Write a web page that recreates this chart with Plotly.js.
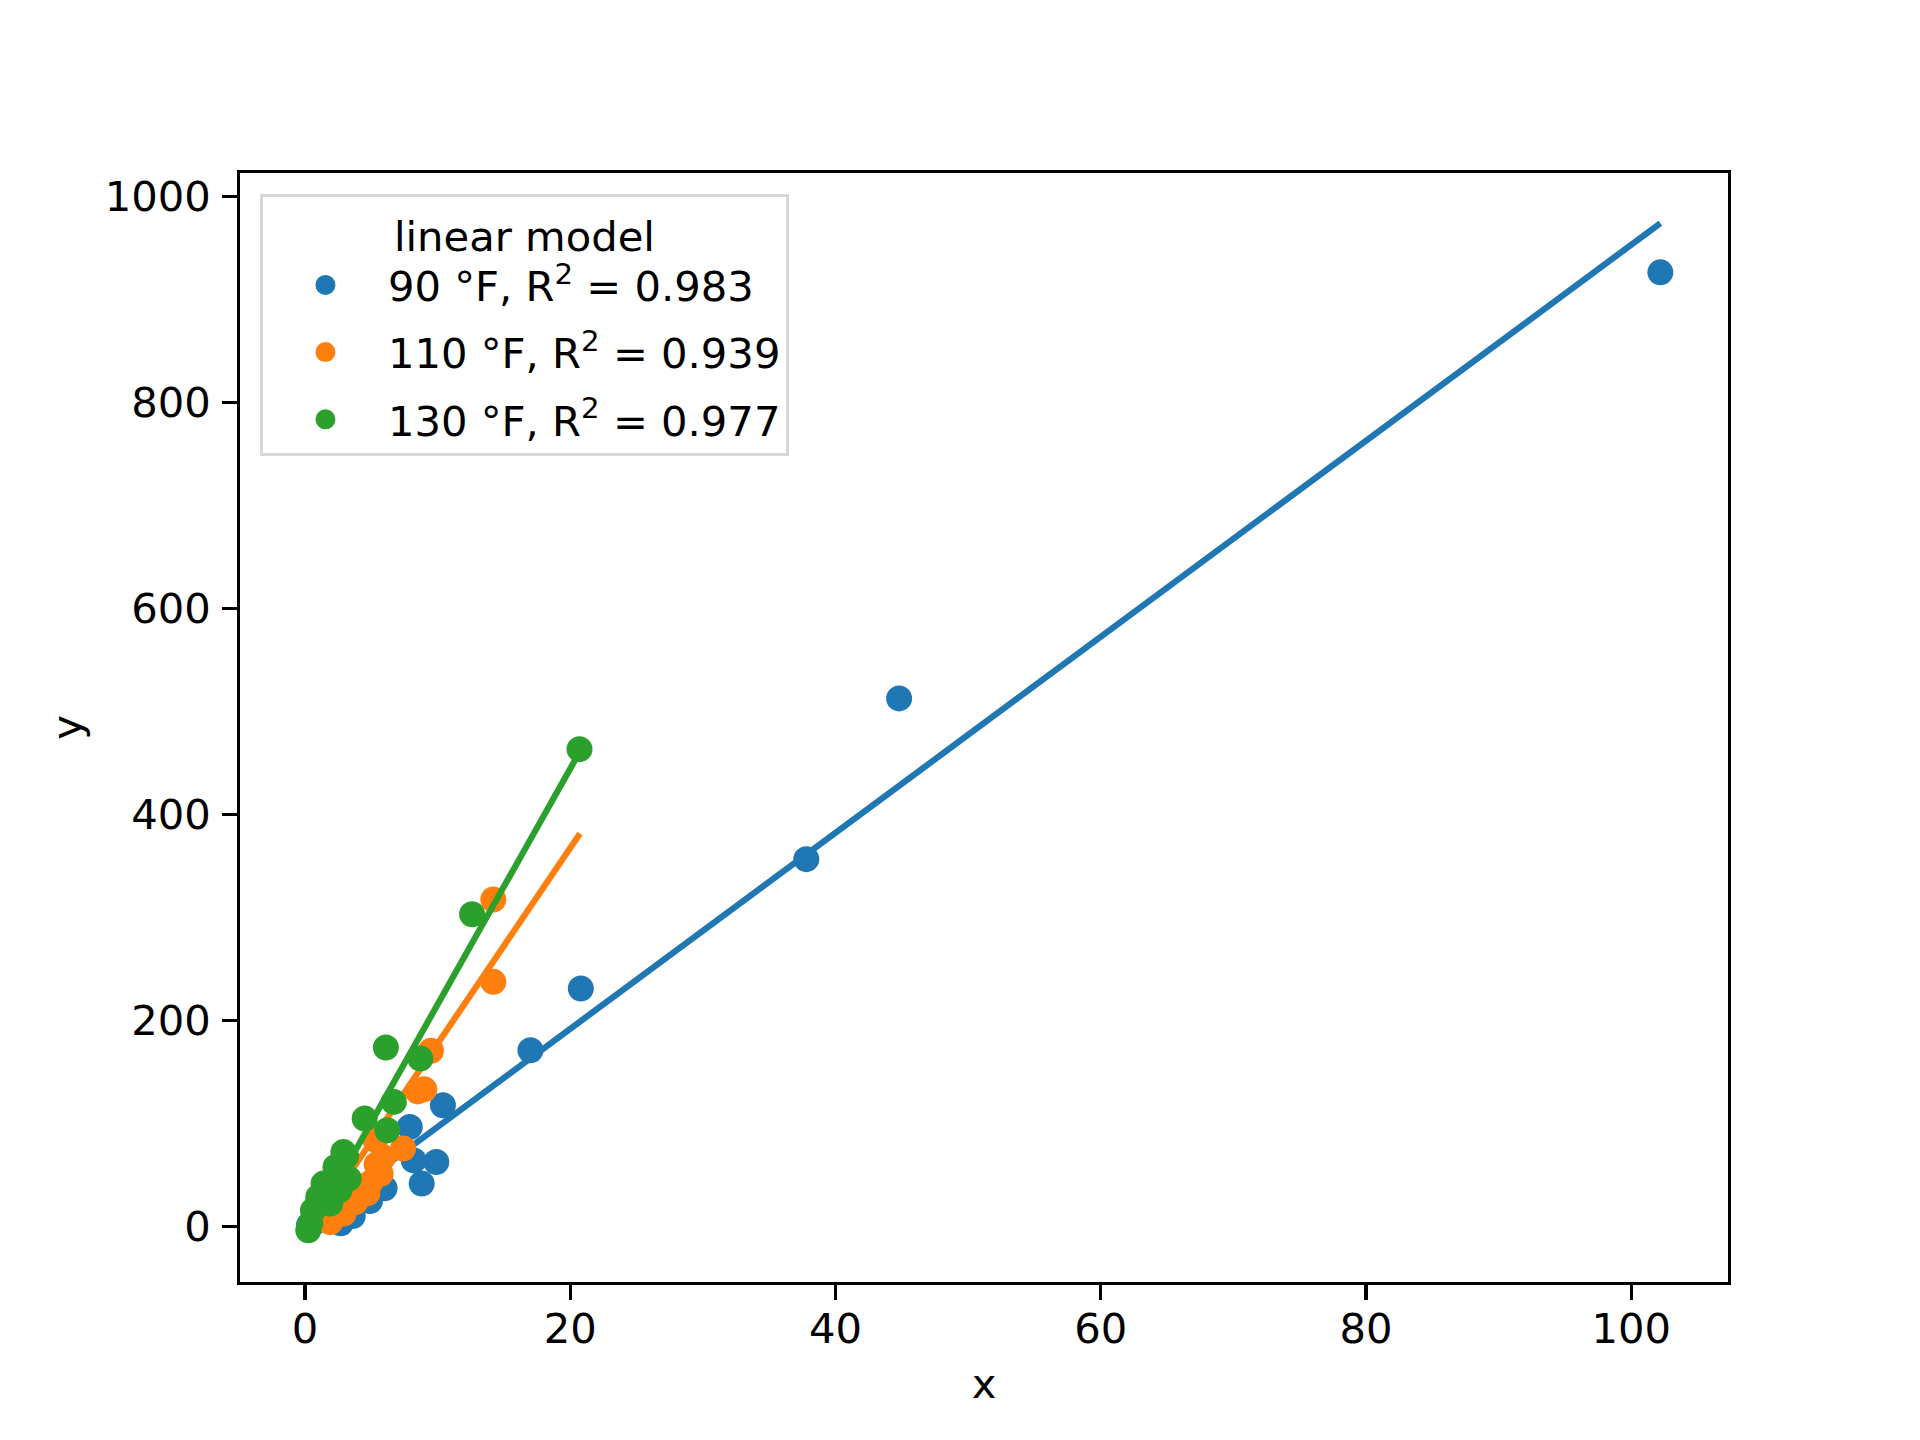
<!DOCTYPE html>
<html>
<head>
<meta charset="utf-8">
<script src="https://cdn.plot.ly/plotly-3.0.1.min.js"></script>
<style>
  body { margin: 0; background: #fff; }
  #chart { width: 1920px; height: 1440px; }
</style>
</head>
<body>
<div id="chart"></div>
<script>
// measured points, one group per temperature
const x90 = [102.2, 44.8, 37.8, 20.8, 17.0, 10.4, 7.9, 9.9, 8.2, 8.8, 6.0, 4.9, 3.6, 2.7, 1.6, 0.9, 0.3];
const y90 = [926.5, 512.7, 356.6, 231.0, 171.0, 117.6, 96.5, 62.5, 64.0, 41.5, 37.0, 24.5, 10.0, 3.0, 8.0, 5.0, 1.0];

const x110 = [14.2, 14.2, 9.5, 8.5, 9.0, 7.4, 5.3, 5.9, 5.7, 5.4, 4.7, 4.9, 3.8, 2.9, 1.9, 1.0, 0.4];
const y110 = [317.4, 237.4, 170.5, 131.0, 133.0, 75.5, 84.0, 67.0, 51.0, 60.0, 32.0, 42.0, 23.6, 12.3, 4.0, 8.0, 1.0];

const x130 = [20.7, 12.6, 6.1, 8.7, 6.7, 4.5, 6.2, 2.9, 2.3, 3.3, 1.4, 2.6, 1.9, 1.0, 0.6, 0.4, 0.25, 3.1, 1.6];
const y130 = [463.4, 303.1, 173.6, 163.0, 120.8, 104.6, 93.3, 72.2, 57.6, 46.3, 41.5, 35.0, 22.0, 28.5, 15.5, 2.6, -3.9, 68.0, 38.0];

// fitted lines, ends
const fitX90 = [0.25, 102.2];
const fitY90 = [3.8, 974.2];
const fitX110 = [0.4, 20.74];
const fitY110 = [-5.1, 381.5];
const fitX130 = [0.25, 20.74];
const fitY130 = [-7.8, 461.4];

const labels = ["90 °F, R<sup>2</sup> = 0.983", "110 °F, R<sup>2</sup> = 0.939", "130 °F, R<sup>2</sup> = 0.977"];
const colors = ["#1f77b4", "#ff7f0e", "#2ca02c"];

const FONT = "DejaVu Sans, sans-serif";

//one scatter and one line per group
//the marker outline makes the legend dot a bit bigger
function groupTraces(xs, ys, fx, fy, i)
{
  let pts =
  {
    x: xs,
    y: ys,
    type: "scatter",
    mode: "markers",
    name: labels[i],
    legendgroup: "g" + i,
    marker: { color: colors[i], size: 22, line: { color: colors[i], width: 4 } }
  };
  let line =
  {
    x: fx,
    y: fy,
    type: "scatter",
    mode: "lines",
    showlegend: false,
    legendgroup: "g" + i,
    line: { color: colors[i], width: 6.25 }
  };
  return [pts, line];
}

let data = []
  .concat(groupTraces(x90, y90, fitX90, fitY90, 0))
  .concat(groupTraces(x110, y110, fitX110, fitY110, 1))
  .concat(groupTraces(x130, y130, fitX130, fitY130, 2));

let axisBase =
{
  showgrid: false,
  zeroline: false,
  showline: true,
  mirror: true,
  linecolor: "#000",
  linewidth: 3.3,
  ticks: "outside",
  ticklen: 14.6,
  tickwidth: 3.3,
  tickcolor: "#000",
  tickfont: { family: FONT, size: 41.7, color: "#000" }
};

let layout =
{
  width: 1920,
  height: 1440,
  margin: { l: 240, r: 192, t: 173, b: 158 },
  paper_bgcolor: "#fff",
  plot_bgcolor: "#fff",
  font: { family: FONT, size: 41.7, color: "#000" },
  showlegend: true,
  xaxis: Object.assign({}, axisBase,
  {
    range: [-4.9, 107.3],
    autorange: false,
    tickvals: [0, 20, 40, 60, 80, 100],
    ticklabelstandoff: -7,
    title: { text: "x", font: { family: FONT, size: 41.7, color: "#000" }, standoff: 18 }
  }),
  yaxis: Object.assign({}, axisBase,
  {
    range: [-54.1, 1023],
    autorange: false,
    tickvals: [0, 200, 400, 600, 800, 1000],
    ticklabelstandoff: 3,
    title: { text: "y", font: { family: FONT, size: 41.7, color: "#000" }, standoff: 11 }
  }),
  legend:
  {
    x: 0.0134,
    y: 0.981,
    xanchor: "left",
    yanchor: "top",
    bgcolor: "rgba(255,255,255,0.8)",
    bordercolor: "#d6d6d6",
    borderwidth: 3,
    tracegroupgap: 10,
    itemwidth: 115,
    font: { family: FONT, size: 41.7, color: "#000" },
    title: { text: "linear model", side: "top center", font: { family: FONT, size: 41.7, color: "#000" } }
  }
};

Plotly.newPlot("chart", data, layout, { staticPlot: true });
</script>
</body>
</html>
